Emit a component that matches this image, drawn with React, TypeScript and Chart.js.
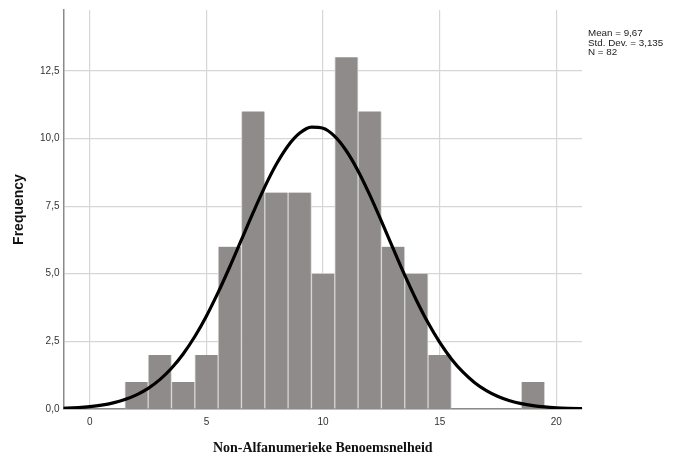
import React, { useEffect, useRef } from "react";
import { Chart, registerables } from "chart.js";

Chart.register(...registerables);

// Histogram bins (bin centres, width 1)
const binCenters = [2, 3, 4, 5, 6, 7, 8, 9, 10, 11, 12, 13, 14, 15, 19];
const binCounts = [1, 2, 1, 2, 6, 11, 8, 8, 5, 13, 11, 6, 5, 2, 1];

// Normal curve
const curveX = [
  -1.5, -1, -0.5, 0, 0.5, 1, 1.5, 2, 2.5, 3, 3.5, 4, 4.5, 5, 5.5, 6, 6.5, 7, 7.5, 8, 8.5, 9, 9.5,
  10, 10.5, 11, 11.5, 12, 12.5, 13, 13.5, 14, 14.5, 15, 15.5, 16, 16.5, 17, 17.5, 18, 18.5, 19,
  19.5, 20, 20.5, 21, 21.5,
];
const curveY = [
  0.018, 0.032, 0.054, 0.09, 0.145, 0.228, 0.35, 0.523, 0.763, 1.085, 1.505, 2.034, 2.679, 3.44,
  4.309, 5.259, 6.259, 7.261, 8.212, 9.054, 9.733, 10.199, 10.42, 10.377, 10.076, 9.537, 8.801,
  7.917, 6.943, 5.936, 4.947, 4.021, 3.185, 2.46, 1.851, 1.359, 0.972, 0.679, 0.461, 0.306, 0.198,
  0.124, 0.076, 0.046, 0.027, 0.015, 0.008,
];

const xTicks = [0, 5, 10, 15, 20];
const yTicks = [0, 2.5, 5, 7.5, 10, 12.5];
const statsLines = ["Mean = 9,67", "Std. Dev. = 3,135", "N = 82"];
const xTitle = "Non-Alfanumerieke Benoemsnelheid";
const yTitle = "Frequency";

const statsPlugin = {
  id: "stats",
  afterDraw(chart: any) {
    const ctx = chart.ctx;
    ctx.save();
    ctx.font = "9.8px 'Liberation Sans', Arial, sans-serif";
    ctx.fillStyle = "#222";
    ctx.textAlign = "left";
    ctx.textBaseline = "middle";
    statsLines.forEach((t, i) => ctx.fillText(t, 588, 33.5 + i * 9.6));
    ctx.restore();
  },
};

export default function App() {
  const ref = useRef<HTMLCanvasElement>(null);
  useEffect(() => {
    if (!ref.current) return;
    const chart = new Chart(ref.current, {
      type: "bar",
      data: {
        datasets: [
          {
            type: "line",
            data: curveX.map((x, i) => ({ x, y: curveY[i] })),
            borderColor: "#000",
            borderWidth: 3.2,
            pointRadius: 0,
            cubicInterpolationMode: "monotone",
            fill: false,
            order: 0,
          } as any,
          {
            type: "bar",
            data: binCenters.map((x, i) => ({ x, y: binCounts[i] })),
            backgroundColor: "#8f8b8a",
            borderColor: "#d6d4d3",
            borderWidth: { left: 1, right: 1, top: 0, bottom: 0 },
            borderSkipped: false,
            barPercentage: 1,
            categoryPercentage: 1,
            order: 1,
          } as any,
        ],
      },
      options: {
        responsive: false,
        animation: false,
        layout: { padding: { top: 10, right: 100, left: 0, bottom: 0 } },
        plugins: { legend: { display: false }, tooltip: { enabled: false } },
        scales: {
          x: {
            type: "linear",
            min: -1.13,
            max: 21.1,
            offset: false,
            afterFit: (s: any) => {
              s.height = 48;
            },
            afterBuildTicks: (s: any) => {
              s.ticks = xTicks.map((v) => ({ value: v }));
            },
            grid: { color: "#d6d6d6", lineWidth: 1.2, drawTicks: false, offset: false },
            border: { display: true, color: "#8a8a8a", width: 1.5 },
            ticks: {
              padding: 7,
              color: "#333",
              font: { family: "'Liberation Sans', Arial, sans-serif", size: 10 },
              maxRotation: 0,
              callback: (v: any) => String(v),
            },
            title: {
              display: true,
              text: xTitle,
              color: "#111",
              font: { family: "'Liberation Serif', 'Times New Roman', serif", size: 14, weight: "bold" },
              padding: { top: 0, bottom: 0 },
            },
          },
          y: {
            min: 0,
            max: 14.75,
            afterFit: (s: any) => {
              s.width = 63.5;
            },
            afterBuildTicks: (s: any) => {
              s.ticks = yTicks.map((v) => ({ value: v }));
            },
            grid: { color: "#d6d6d6", lineWidth: 1.2, drawTicks: false },
            border: { display: true, color: "#8a8a8a", width: 1.5 },
            ticks: {
              padding: 4,
              color: "#333",
              font: { family: "'Liberation Sans', Arial, sans-serif", size: 10 },
              callback: (v: any) => Number(v).toFixed(1).replace(".", ","),
            },
            title: {
              display: true,
              text: yTitle,
              color: "#111",
              font: { family: "'Liberation Sans', Arial, sans-serif", size: 14, weight: "bold" },
              padding: { top: 10.6, bottom: 0 },
            },
          },
        },
      },
      plugins: [statsPlugin],
    });
    return () => chart.destroy();
  }, []);
  return (
    <div style={{ position: "absolute", left: 0, top: 0, width: 682, height: 457 }}>
      <canvas ref={ref} width={682} height={457} style={{ display: "block" }} />
    </div>
  );
}
